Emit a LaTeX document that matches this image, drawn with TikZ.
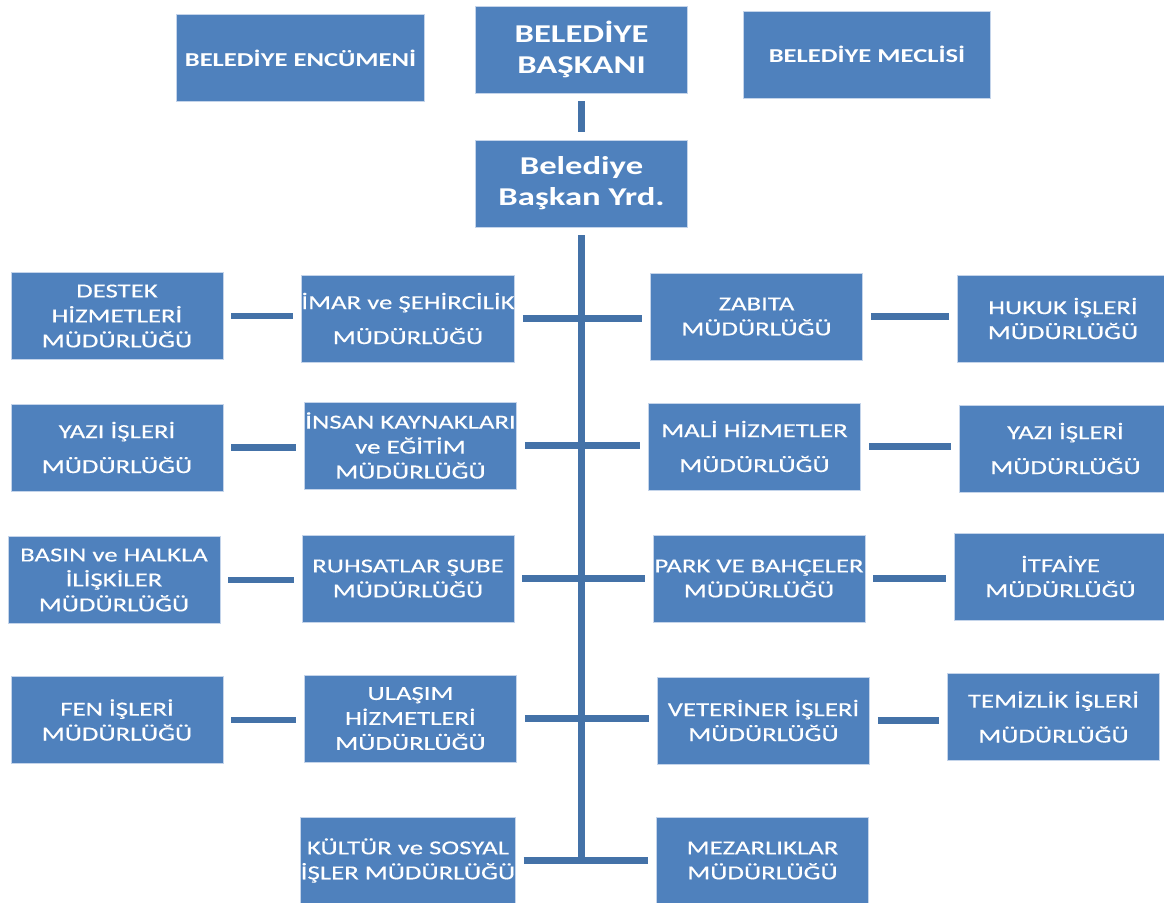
\documentclass[tikz,border=0pt]{standalone}
\usepackage{fontspec}
\setmainfont{Carlito}[FakeStretch=1.35]
\newfontfamily\deptfamily{Carlito}[FakeStretch=1.35, FakeBold=0.3]
\usepackage{tikz}
\definecolor{boxblue}{RGB}{79,129,189}
\definecolor{barblue}{RGB}{68,114,168}
\definecolor{edgeblue}{RGB}{196,212,234}
\usetikzlibrary{positioning}
\newcommand{\deptfont}{\deptfamily\fontsize{11.3}{14.2}\selectfont}
\newcommand{\chieffont}{\bfseries\fontsize{14.6}{17.6}\selectfont}
\tikzset{unit/.style={rectangle, draw=edgeblue, line width=0.4pt, fill=boxblue, text=white, align=center,
 inner sep=0pt, minimum width=4.24cm, minimum height=1.74cm, font=\deptfont}}
\tikzset{council/.style={unit, minimum width=4.95cm, font=\bfseries\fontsize{11.2}{13.4}\selectfont}}
\tikzset{chief/.style={unit, font=\chieffont}}
\tikzset{line/.style={draw=barblue, line width=0.13cm, shorten <=0.16cm, shorten >=0.16cm}}

\begin{document}
\begin{tikzpicture}[x=0.02cm, y=-0.02cm]
        \clip (0,0) rectangle (1164,903);

        \node[council]  (enc) at (300.5,58)   {BELEDİYE ENCÜMENİ};
        \node[chief]    (bsk) at (581.5,49.5) {BELEDİYE\\BAŞKANI};
        \node[council]  (mec) at (867,54.5)   {BELEDİYE MECLİSİ};
        \node[chief]    (yrd) at (581.5,183.5){Belediye\\Başkan Yrd.};

        \node[unit] (destek) at (117,316)     {DESTEK\\HİZMETLERİ\\MÜDÜRLÜĞÜ};
        \node[unit] (imar)   at (408,318.5)   {İMAR ve ŞEHİRCİLİK\\[5.7pt]MÜDÜRLÜĞÜ};
        \node[unit] (zabita) at (756.5,316.5) {ZABITA\\MÜDÜRLÜĞÜ};
        \node[unit] (hukuk)  at (1063,318.5)  {HUKUK İŞLERİ\\MÜDÜRLÜĞÜ};

        \node[unit] (yazia)  at (117,447.5)   {YAZI İŞLERİ\\[5.7pt]MÜDÜRLÜĞÜ};
        \node[unit] (insan)  at (410.5,445.5) {İNSAN KAYNAKLARI\\ve EĞİTİM\\MÜDÜRLÜĞÜ};
        \node[unit] (mali)   at (754.5,446.5) {MALİ HİZMETLER\\[5.7pt]MÜDÜRLÜĞÜ};
        \node[unit] (yazib)  at (1065.5,448.5){YAZI İŞLERİ\\[5.7pt]MÜDÜRLÜĞÜ};

        \node[unit] (basin)  at (114,580)     {BASIN ve HALKLA\\İLİŞKİLER\\MÜDÜRLÜĞÜ};
        \node[unit] (ruhsat) at (408,578.5)   {RUHSATLAR ŞUBE\\MÜDÜRLÜĞÜ};
        \node[unit] (park)   at (759,578.5)   {PARK VE BAHÇELER\\MÜDÜRLÜĞÜ};
        \node[unit] (itfaiye)at (1060.5,576.5){İTFAİYE\\MÜDÜRLÜĞÜ};

        \node[unit] (fen)    at (117,720)     {FEN İŞLERİ\\MÜDÜRLÜĞÜ};
        \node[unit] (ulasim) at (410.5,718.5) {ULAŞIM\\HİZMETLERİ\\MÜDÜRLÜĞÜ};
        \node[unit] (vet)    at (763.5,720.5) {VETERİNER İŞLERİ\\MÜDÜRLÜĞÜ};
        \node[unit] (temiz)  at (1053.5,717)  {TEMİZLİK İŞLERİ\\[5.7pt]MÜDÜRLÜĞÜ};

        \node[unit] (kultur) at (408,860.5)   {KÜLTÜR ve SOSYAL\\İŞLER MÜDÜRLÜĞÜ};
        \node[unit] (mezar)  at (762.5,860.5) {MEZARLIKLAR\\MÜDÜRLÜĞÜ};

        % trunk
        \path[line] (bsk.south) -- (yrd.north);
        \path[line, shorten >=-0.06cm] (yrd.south) -- (yrd |- kultur);

        % branches across the trunk
        \path[line] (imar.east)   -- (imar.east -| zabita.west);
        \path[line] (insan.east)  -- (insan.east -| mali.west);
        \path[line] (ruhsat.east) -- (ruhsat.east -| park.west);
        \path[line] (ulasim.east) -- (ulasim.east -| vet.west);
        \path[line] (kultur.east) -- (kultur.east -| mezar.west);

        % outer units
        \path[line] (destek.east) -- (destek.east -| imar.west);
        \path[line] (yazia.east)  -- (yazia.east -| insan.west);
        \path[line] (basin.east)  -- (basin.east -| ruhsat.west);
        \path[line] (fen.east)    -- (fen.east -| ulasim.west);
        \path[line] (zabita.east) -- (zabita.east -| hukuk.west);
        \path[line] (mali.east)   -- (mali.east -| yazib.west);
        \path[line] (park.east)   -- (park.east -| itfaiye.west);
        \path[line] (vet.east)    -- (vet.east -| temiz.west);
\end{tikzpicture}
\end{document}
